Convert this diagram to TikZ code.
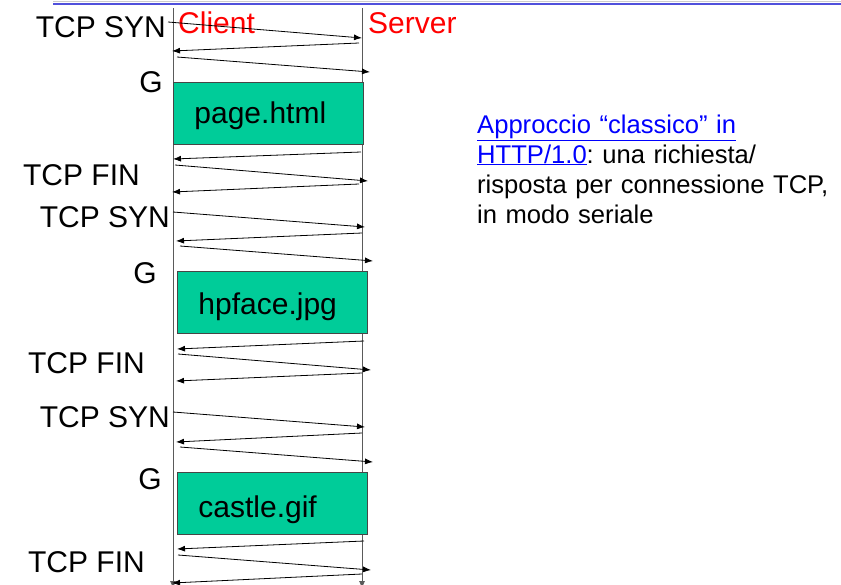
\documentclass[tikz,border=0pt]{standalone}
\usepackage{fontspec}
\setmainfont{Liberation Sans}
\usepackage{tikz}
\usetikzlibrary{arrows.meta}

\definecolor{slideblue}{RGB}{80,80,220}
\definecolor{filegreen}{RGB}{0,204,153}
\definecolor{linkblue}{RGB}{0,0,255}
\definecolor{lifegray}{RGB}{90,90,90}

\begin{document}
\frenchspacing
\begin{tikzpicture}[x=1pt, y=-1pt]

	\tikzstyle{big_text} = [font=\fontsize{30}{36}\selectfont, inner sep=0pt]
	\tikzstyle{lifeline} = [draw=lifegray, line width=0.9pt]
	\tikzstyle{file_box} = [draw={rgb,255:red,70;green,70;blue,70}, fill=filegreen, line width=0.9pt, anchor=north west, minimum height=62pt, inner xsep=21pt, inner ysep=0pt, text width=148pt, align=left, text depth=0pt, font=\fontsize{30}{36}\selectfont]
	\tikzstyle{msg} = [-{Latex[length=8pt,width=6pt]}, line width=0.8pt]

	\useasboundingbox (0,0) rectangle (841,584);

	% slide rule
	\draw[gray!40, line width=0.8pt] (53,1) -- (841,1);
	\draw[slideblue, line width=2pt] (53,4) -- (841,4);

%------------------------------------------------------------
	\coordinate (ctop) at (173,8);
	\coordinate (cmid) at (173,560);
	\coordinate (cbot) at (173,589);
	\coordinate (stop) at (362,8);
	\coordinate (smid) at (362,560);
	\coordinate (sbot) at (362,589);

	\draw[lifeline] (ctop) -- (cmid);
	\draw[lifeline] (stop) -- (smid);
	\path[msg, lifegray, line width=0.9pt] (cmid) edge (cbot);
	\path[msg, lifegray, line width=0.9pt] (smid) edge (sbot);

	\node[big_text, anchor=base west, text=red] (client) at (178,33) {Client};
	\node[big_text, anchor=base west, text=red] (server) at (368,33) {Server};
%------------------------------------------------------------
	\node[big_text, anchor=base east] (syn1) at (166,37) {TCP SYN};
	\node[big_text, anchor=base east] (g1) at (163,92) {G};
	\node[file_box, minimum width=189pt, text height=20pt] (page) at (173,82) {page.html};
	\node[big_text, anchor=base east] (fin1) at (140,185) {TCP FIN};

	\coordinate (m11s) at (168,22);  \coordinate (m11e) at (362,38);
	\coordinate (m12s) at (359,43);  \coordinate (m12e) at (172,51);
	\coordinate (m13s) at (177,57);  \coordinate (m13e) at (370,72);
	\coordinate (m14s) at (361,152); \coordinate (m14e) at (173,159);
	\coordinate (m15s) at (175,165); \coordinate (m15e) at (368,181);
	\coordinate (m16s) at (359,184); \coordinate (m16e) at (172,192);

	\path[msg] (m11s) edge (m11e);
	\path[msg] (m12s) edge (m12e);
	\path[msg] (m13s) edge (m13e);
	\path[msg] (m14s) edge (m14e);
	\path[msg] (m15s) edge (m15e);
	\path[msg] (m16s) edge (m16e);
%------------------------------------------------------------
	\node[big_text, anchor=base east] (syn2) at (170,227) {TCP SYN};
	\node[big_text, anchor=base east] (g2) at (157,283) {G};
	\node[file_box, minimum width=190pt, text height=24pt] (hpface) at (177,271) {hpface.jpg};
	\node[big_text, anchor=base east] (fin2) at (145,373) {TCP FIN};

	\coordinate (m21s) at (173,212); \coordinate (m21e) at (365,227);
	\coordinate (m22s) at (362,233); \coordinate (m22e) at (176,241);
	\coordinate (m23s) at (180,246); \coordinate (m23e) at (373,261);
	\coordinate (m24s) at (364,341); \coordinate (m24e) at (177,349);
	\coordinate (m25s) at (178,354); \coordinate (m25e) at (371,370);
	\coordinate (m26s) at (362,373); \coordinate (m26e) at (176,381);

	\path[msg] (m21s) edge (m21e);
	\path[msg] (m22s) edge (m22e);
	\path[msg] (m23s) edge (m23e);
	\path[msg] (m24s) edge (m24e);
	\path[msg] (m25s) edge (m25e);
	\path[msg] (m26s) edge (m26e);
%------------------------------------------------------------
	\node[big_text, anchor=base east] (syn3) at (170,427) {TCP SYN};
	\node[big_text, anchor=base east] (g3) at (162,489) {G};
	\node[file_box, minimum width=190pt, text height=29pt] (castle) at (177,472) {castle.gif};
	\node[big_text, anchor=base east] (fin3) at (145,572) {TCP FIN};

	\coordinate (m31s) at (173,412); \coordinate (m31e) at (365,427);
	\coordinate (m32s) at (362,433); \coordinate (m32e) at (176,442);
	\coordinate (m33s) at (180,447); \coordinate (m33e) at (373,462);
	\coordinate (m34s) at (364,541); \coordinate (m34e) at (177,549);
	\coordinate (m35s) at (178,555); \coordinate (m35e) at (371,570);
	\coordinate (m36s) at (362,574); \coordinate (m36e) at (172,583);

	\path[msg] (m31s) edge (m31e);
	\path[msg] (m32s) edge (m32e);
	\path[msg] (m33s) edge (m33e);
	\path[msg] (m34s) edge (m34e);
	\path[msg] (m35s) edge (m35e);
	\path[msg] (m36s) edge (m36e);
%------------------------------------------------------------
	\node[anchor=base west, inner sep=0pt, text width=370pt, align=left, font=\fontsize{25.6}{30}\selectfont] (note) at (477,133)
		{\textcolor{linkblue}{\underline{Approccio “classico” in}}\\
		 \textcolor{linkblue}{\underline{HTTP/1.0}}: una richiesta/\\
		 risposta per connessione TCP,\\
		 in modo seriale};

\end{tikzpicture}
\end{document}
